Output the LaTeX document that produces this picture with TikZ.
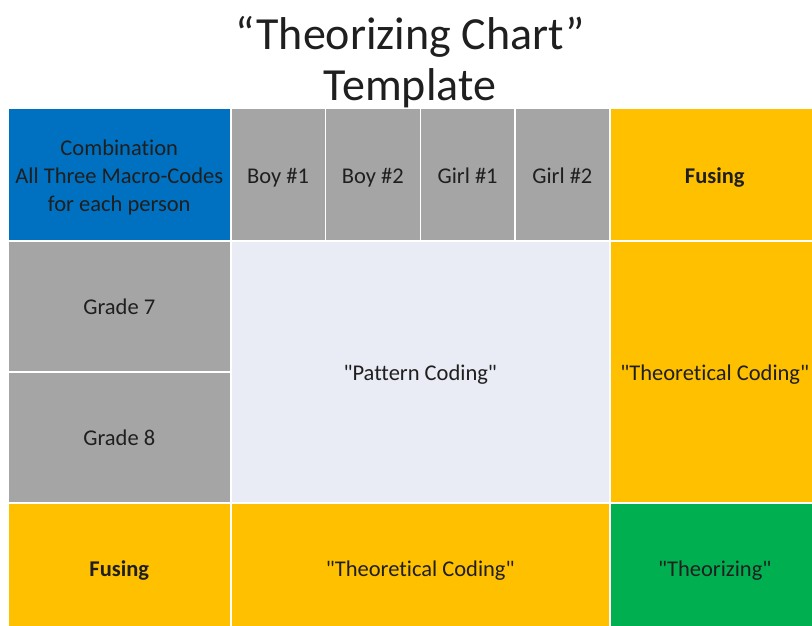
\documentclass[tikz,border=0pt]{standalone}
\usepackage{fontspec}
\setmainfont{Carlito}[Ligatures={TeXOff,CommonOff}]
\begin{document}
\begin{tikzpicture}[x=1pt,y=-1pt,
  cell/.style={draw=white, line width=1.5pt, inner sep=0pt, anchor=north west,
    align=center, font=\fontsize{22.5}{28}\selectfont, text=black!88,
    text height=21pt, text depth=4.5pt},
  title/.style={anchor=base, font=\fontsize{46}{50}\selectfont, text=black!88}]
\definecolor{cblue}{HTML}{0070C0}
\definecolor{cgray}{HTML}{A5A5A5}
\definecolor{cpale}{HTML}{E9EBF5}
\definecolor{cgold}{HTML}{FFC000}
\definecolor{cgreen}{HTML}{00B050}
\useasboundingbox (0,0) rectangle (812,626);
\clip (0,0) rectangle (812,626);

% title
\node[title] (t1) at (410,50) {“Theorizing Chart”};
\node[title] (t2) at (410,100) {Template};

% header row
\node[cell, fill=cblue, minimum width=223pt, minimum height=132pt, text height={}, text depth={}] (comb) at (7,108)
  {\rule{0pt}{21pt}Combination\\All Three Macro-Codes\\for each person};
\node[cell, fill=cgray, minimum width=94.75pt, minimum height=132pt] (b1) at (230,108) {Boy \#1};
\node[cell, fill=cgray, minimum width=94.75pt, minimum height=132pt] (b2) at (324.75,108) {Boy \#2};
\node[cell, fill=cgray, minimum width=94.75pt, minimum height=132pt] (g1) at (419.5,108) {Girl \#1};
\node[cell, fill=cgray, minimum width=94.75pt, minimum height=132pt] (g2) at (514.25,108) {Girl \#2};
\node[cell, fill=cgold, minimum width=210pt, minimum height=132pt] (fuse1) at (609,108) {\textbf{Fusing}};

% grade rows
\node[cell, fill=cgray, minimum width=223pt, minimum height=131pt] (gr7) at (7,240) {Grade 7};
\node[cell, fill=cgray, minimum width=223pt, minimum height=131pt] (gr8) at (7,371) {Grade 8};
\node[cell, fill=cpale, minimum width=379pt, minimum height=262pt] (pat) at (230,240) {"Pattern Coding"};
\node[cell, fill=cgold, minimum width=210pt, minimum height=262pt] (theo1) at (609,240) {"Theoretical Coding"};

% bottom row
\node[cell, fill=cgold, minimum width=223pt, minimum height=130pt] (fuse2) at (7,502) {\textbf{Fusing}};
\node[cell, fill=cgold, minimum width=379pt, minimum height=130pt] (theo2) at (230,502) {"Theoretical Coding"};
\node[cell, fill=cgreen, minimum width=210pt, minimum height=130pt] (thz) at (609,502) {"Theorizing"};
\end{tikzpicture}
\end{document}
